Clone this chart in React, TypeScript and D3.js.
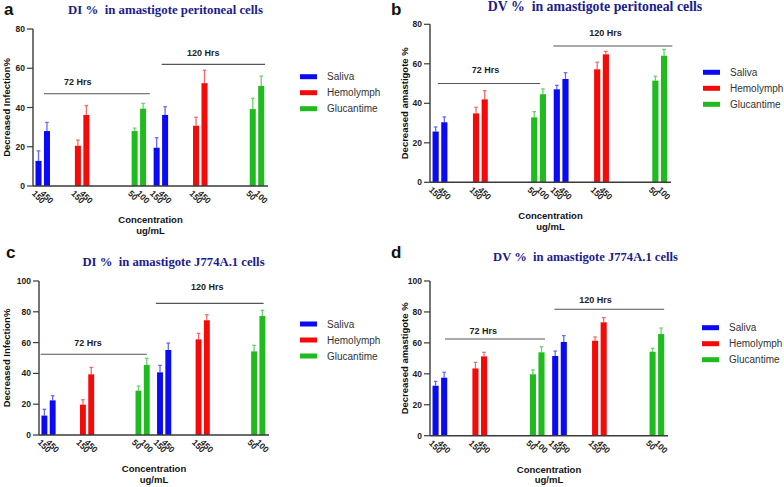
import React from 'react';
import * as d3 from 'd3';

// ---- data ----
const timepoints = ['72 Hrs', '120 Hrs'];
const treatments = ['Saliva', 'Hemolymph', 'Glucantime'];
const salivaDoses = ['150', '450'];
const hemolymphDoses = ['150', '450'];
const glucantimeDoses = ['50', '100'];

// order: 72h [S150,S450,H150,H450,G50,G100], then 120h same
const diPeritonealMean = [12.8, 28, 20.5, 36.2, 28, 39.4, 19.5, 36.2, 30.7, 52.4, 39.2, 51];
const diPeritonealErr = [5.1, 4.4, 2.9, 4.8, 1.5, 2.7, 5.1, 4.2, 4.3, 6.6, 5.5, 5];
const dvPeritonealMean = [25.7, 30.4, 34.9, 42, 32.9, 44.6, 47.1, 52.3, 57.2, 64.8, 51.5, 64.1];
const dvPeritonealErr = [2.3, 2.7, 3.1, 4.4, 2.9, 2.7, 2, 3.2, 3.6, 1.5, 2.2, 3.2];
const diJ774Mean = [12.6, 22.5, 19.7, 39.4, 28.8, 45.5, 40.7, 55.2, 62.1, 74.5, 54.3, 77.3];
const diJ774Err = [4.1, 3, 3.2, 4.5, 3, 4.3, 4.5, 4.5, 3.9, 3.6, 3.9, 3.7];
const dvJ774Mean = [32.3, 37.5, 43.5, 51.3, 39.7, 53.9, 51.5, 60.6, 61.4, 73.3, 54.3, 65.7];
const dvJ774Err = [2.8, 3.5, 3.9, 2.6, 2.8, 3.6, 3.2, 4.1, 2.4, 3, 2.2, 3.9];

const yTicksPeritoneal = [0, 20, 40, 60, 80];
const yTicksJ774 = [0, 20, 40, 60, 80, 100];

const doses: Record<string, string[]> = {
  Saliva: salivaDoses,
  Hemolymph: hemolymphDoses,
  Glucantime: glucantimeDoses,
};

const colors: Record<string, string> = { Saliva: '#0a0af5', Hemolymph: '#f50a0a', Glucantime: '#1fbb1f' };
const errColors: Record<string, string> = { Saliva: '#6a6af8', Hemolymph: '#f86a6a', Glucantime: '#6ad36a' };

// ---- bar layout (slot units along x) ----
const GAP_AFTER: Record<string, number> = { Saliva: 3.65, Hemolymph: 5.7, Glucantime: 1.6 };
const X_DOMAIN: [number, number] = [0, 27.75];
const BAR_W = 0.71;

interface Bar { tp: string; trt: string; dose: string; u: number; }
const bars: Bar[] = (() => {
  const out: Bar[] = [];
  let u = 0.65;
  timepoints.forEach(tp => {
    treatments.forEach(trt => {
      doses[trt].forEach((dose, i) => {
        out.push({ tp, trt, dose, u });
        u += i === 0 ? 1 : GAP_AFTER[trt];
      });
    });
  });
  return out;
})();

interface Note { label: string; from: number; to: number; y: number; lx: number; ly: number; }
interface Panel {
  letter: string; title: string; titleSize: number; titleX: number; titleY: number;
  letterX: number; letterY: number;
  yLabel: string; yLabelX: number; ticks: number[];
  mean: number[]; err: number[];
  ax: number; axEnd: number; y0: number; yTop: number;
  legX: number; legY: number; notes: Note[];
}

const panels: Panel[] = [
  {
    letter: 'a', title: 'DI %  in amastigote peritoneal cells', titleSize: 12.8, titleX: 165.5, titleY: 14,
    letterX: 4, letterY: 15, yLabel: 'Decreased Infection%', yLabelX: 6, ticks: yTicksPeritoneal,
    mean: diPeritonealMean, err: diPeritonealErr, ax: 33, axEnd: 268, y0: 186, yTop: 29,
    legX: 300, legY: 76.7,
    notes: [
      { label: timepoints[0], from: 1.3, to: 13.8, y: 47, lx: 5.3, ly: 53 },
      { label: timepoints[1], from: 15.2, to: 27.4, y: 62, lx: 20.1, ly: 67.8 },
    ],
  },
  {
    letter: 'b', title: 'DV %  in amastigote peritoneal cells', titleSize: 13.8, titleX: 595, titleY: 11,
    letterX: 391, letterY: 15, yLabel: 'Decreased amastigote %', yLabelX: 404, ticks: yTicksPeritoneal,
    mean: dvPeritonealMean, err: dvPeritonealErr, ax: 430, axEnd: 671, y0: 182.3, yTop: 24.3,
    legX: 703, legY: 72.3,
    notes: [
      { label: timepoints[0], from: 0.9, to: 12.7, y: 50, lx: 6.4, ly: 56.9 },
      { label: timepoints[1], from: 14.2, to: 27.9, y: 69, lx: 20.2, ly: 75.6 },
    ],
  },
  {
    letter: 'c', title: 'DI %  in amastigote J774A.1 cells', titleSize: 12.7, titleX: 173.5, titleY: 266,
    letterX: 6, letterY: 258, yLabel: 'Decreased Infection%', yLabelX: 6, ticks: yTicksJ774,
    mean: diJ774Mean, err: diJ774Err, ax: 39, axEnd: 269, y0: 435, yTop: 281,
    legX: 300, legY: 324,
    notes: [
      { label: timepoints[0], from: 0.2, to: 13, y: 52.4, lx: 5.9, ly: 59.9 },
      { label: timepoints[1], from: 14.1, to: 27.1, y: 85.5, lx: 20.3, ly: 96.3 },
    ],
  },
  {
    letter: 'd', title: 'DV %  in amastigote J774A.1 cells', titleSize: 12.6, titleX: 585.5, titleY: 261,
    letterX: 391, letterY: 258, yLabel: 'Decreased amastigote %', yLabelX: 404, ticks: yTicksJ774,
    mean: dvJ774Mean, err: dvJ774Err, ax: 430, axEnd: 668, y0: 435.7, yTop: 281,
    legX: 702, legY: 327.7,
    notes: [
      { label: timepoints[0], from: 1.75, to: 13.4, y: 62.5, lx: 6.2, ly: 67.9 },
      { label: timepoints[1], from: 14.5, to: 27.3, y: 81.7, lx: 19.3, ly: 87.7 },
    ],
  },
];

const SANS = 'Liberation Sans, Arial, sans-serif';
const SERIF = 'Liberation Serif, Times New Roman, serif';
const AXIS = '#3a3a3a';

const BarPanel: React.FC<{ p: Panel }> = ({ p }) => {
  const x = d3.scaleLinear().domain(X_DOMAIN).range([p.ax, p.axEnd]);
  const y = d3.scaleLinear()
    .domain([0, p.ticks[p.ticks.length - 1]])
    .range([p.y0, p.yTop]);
  const bw = x(BAR_W) - x(0);
  const midY = (p.y0 + p.yTop) / 2;

  return (
    <g>
      <text x={p.letterX} y={p.letterY} fontFamily={SANS} fontWeight="bold" fontSize={17} fill="#111">{p.letter}</text>
      <text x={p.titleX} y={p.titleY} textAnchor="middle" fontFamily={SERIF} fontWeight="bold"
        fontSize={p.titleSize} fill="#1c1c8c" style={{ whiteSpace: 'pre' }}>{p.title}</text>

      {/* bars + error bars */}
      {bars.map((b, i) => {
        const cx = x(b.u);
        const top = y(p.mean[i]);
        const et = y(p.mean[i] + p.err[i]);
        return (
          <g key={i}>
            <line x1={cx} x2={cx} y1={top} y2={et} stroke={errColors[b.trt]} strokeWidth={1.3} />
            <line x1={cx - 1.8} x2={cx + 1.8} y1={et} y2={et} stroke={errColors[b.trt]} strokeWidth={1.3} />
            <rect x={cx - bw / 2} y={top} width={bw} height={p.y0 - top} fill={colors[b.trt]} />
            <text transform={`translate(${cx - 5},${p.y0 + 6}) rotate(45)`} textAnchor="start"
              dominantBaseline="central" fontFamily={SANS} fontWeight="bold" fontSize={8.5} fill="#222">{b.dose}</text>
          </g>
        );
      })}

      {/* axes */}
      <line x1={p.ax} x2={p.axEnd} y1={p.y0} y2={p.y0} stroke={AXIS} strokeWidth={1.4} />
      <line x1={p.ax} x2={p.ax} y1={p.y0} y2={p.yTop} stroke={AXIS} strokeWidth={1.4} />
      {p.ticks.map(t => (
        <g key={t}>
          <line x1={p.ax - 6} x2={p.ax} y1={y(t)} y2={y(t)} stroke={AXIS} strokeWidth={1.2} />
          <text x={p.ax - 8} y={y(t)} textAnchor="end" dominantBaseline="central"
            fontFamily={SANS} fontWeight="bold" fontSize={8.5} fill="#222">{t}</text>
        </g>
      ))}
      <text transform={`translate(${p.yLabelX},${midY}) rotate(-90)`} textAnchor="middle" dominantBaseline="central"
        fontFamily={SANS} fontWeight="bold" fontSize={9.5} fill="#111">{p.yLabel}</text>
      <text x={(p.ax + p.axEnd) / 2} y={p.y0 + 37} textAnchor="middle" fontFamily={SANS} fontWeight="bold"
        fontSize={9.5} fill="#111">Concentration</text>
      <text x={(p.ax + p.axEnd) / 2} y={p.y0 + 47.5} textAnchor="middle" fontFamily={SANS} fontWeight="bold"
        fontSize={9.5} fill="#111">ug/mL</text>

      {/* time brackets */}
      {p.notes.map(n => (
        <g key={n.label}>
          <line x1={x(n.from)} x2={x(n.to)} y1={y(n.y)} y2={y(n.y)} stroke="#555" strokeWidth={1.1} />
          <text x={x(n.lx)} y={y(n.ly)} textAnchor="middle" dominantBaseline="central"
            fontFamily={SANS} fontWeight="bold" fontSize={9} fill="#222">{n.label}</text>
        </g>
      ))}

      {/* legend */}
      {treatments.map((t, i) => (
        <g key={t} transform={`translate(${p.legX},${p.legY + i * 16})`}>
          <rect x={0} y={-2.5} width={17} height={5} fill={colors[t]} />
          <text x={27} y={0} dominantBaseline="central" fontFamily={SANS} fontSize={10} fill="#333">{t}</text>
        </g>
      ))}
    </g>
  );
};

export default function App() {
  return (
    <svg width={784} height={487} style={{ position: 'absolute', left: 0, top: 0, background: '#fff' }}>
      <rect width={784} height={487} fill="#fff" />
      {panels.map(p => <BarPanel key={p.letter} p={p} />)}
    </svg>
  );
}
